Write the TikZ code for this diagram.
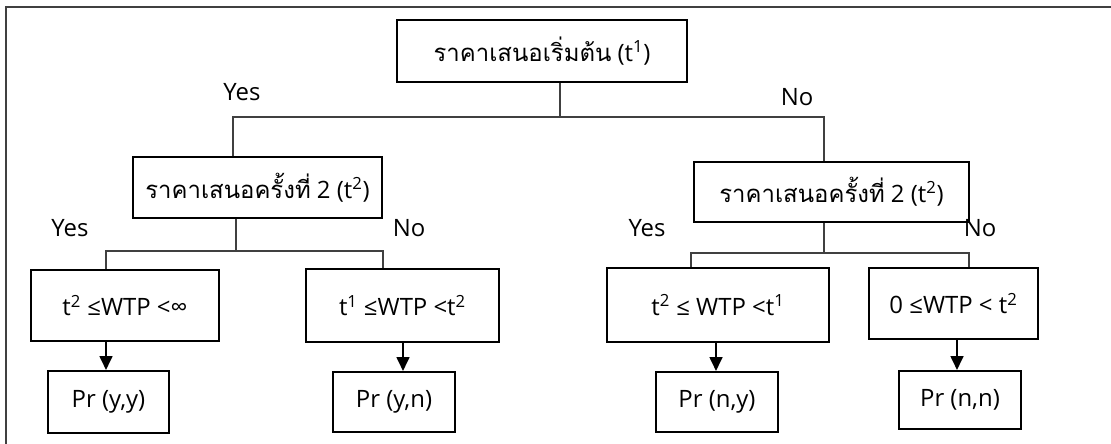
\documentclass[tikz,border=0pt]{standalone}
\usepackage{fontspec}
\setmainfont{Open Sans}
\newfontfamily\thaifont[Script=Thai,Scale=1.0]{Loma}
\usetikzlibrary{arrows.meta}

\tikzset{
  box/.style={draw, line width=1.3pt, inner sep=0pt, align=center},
  link/.style={draw=black!75, line width=0.8pt},
  arr/.style={line width=1.9pt, -{Triangle[width=9pt,length=10pt]}},
  lbl/.style={inner sep=0pt}
}

\begin{document}
\begin{tikzpicture}[x=0.025cm, y=-0.025cm, font=\fontsize{17}{20}\selectfont]
\useasboundingbox (0,0) rectangle (1111,444);

\draw [black!75, line width=1.4pt] (1112,7) -- (6,7) -- (6,445);

\node[box, minimum width=290*0.025cm, minimum height=62*0.025cm] (top) at (542,51) {{\thaifont ราคาเสนอเริ่มต้น} (t\textsuperscript{1})};
\node[box, minimum width=249*0.025cm, minimum height=61*0.025cm] (l2) at (257.5,187.5) {{\thaifont ราคาเสนอครั้งที่} 2 (t\textsuperscript{2})};
\node[box, minimum width=275*0.025cm, minimum height=60*0.025cm] (r2) at (831.5,192) {{\thaifont ราคาเสนอครั้งที่} 2 (t\textsuperscript{2})};

\node[box, minimum width=188*0.025cm, minimum height=71*0.025cm] (b1) at (125,305.5) {t\textsuperscript{2} ≤WTP <∞};
\node[box, minimum width=193*0.025cm, minimum height=73*0.025cm] (b2) at (402.5,305.5) {t\textsuperscript{1} ≤WTP <t\textsuperscript{2}};
\node[box, minimum width=222*0.025cm, minimum height=74*0.025cm] (b3) at (718,305) {t\textsuperscript{2} ≤ WTP <t\textsuperscript{1}};
\node[box, minimum width=169*0.025cm, minimum height=71*0.025cm] (b4) at (953.5,303.5) {0 ≤WTP < t\textsuperscript{2}};

\node[box, minimum width=121*0.025cm, minimum height=62*0.025cm] (p1) at (108.5,402) {Pr (y,y)};
\node[box, minimum width=122*0.025cm, minimum height=60*0.025cm] (p2) at (394,402) {Pr (y,n)};
\node[box, minimum width=122*0.025cm, minimum height=60*0.025cm] (p3) at (717,402) {Pr (n,y)};
\node[box, minimum width=122*0.025cm, minimum height=58*0.025cm] (p4) at (960,400) {Pr (n,n)};

\node[lbl] (yes0) at (242,92) {Yes};
\node[lbl] (no0) at (797,97) {No};
\node[lbl] (yes1) at (70,228) {Yes};
\node[lbl] (no1) at (409,228) {No};
\node[lbl] (yes2) at (647,228) {Yes};
\node[lbl] (no2) at (980,228) {No};

\coordinate (j0) at (560,117);
\coordinate (jl) at (233,117);
\coordinate (jr) at (824,117);
\coordinate (k1) at (236,251);
\coordinate (k1l) at (106,251);
\coordinate (k1r) at (383,251);
\coordinate (k2) at (824,253);
\coordinate (k2l) at (691,253);
\coordinate (k2r) at (969,253);

\draw[link] (top.south -| j0) -- (j0);
\draw[link] (jl |- l2.north) -- (jl) -- (jr) -- (jr |- r2.north);

\draw[link] (l2.south -| k1) -- (k1);
\draw[link] (k1l |- b1.north) -- (k1l) -- (k1r) -- (k1r |- b2.north);
\draw[link] (r2.south -| k2) -- (k2);
\draw[link] (k2l |- b3.north) -- (k2l) -- (k2r) -- (k2r |- b4.north);

\coordinate (a1) at (106,0);
\coordinate (a2) at (403,0);
\coordinate (a3) at (716,0);
\coordinate (a4) at (957,0);
\draw[arr] (b1.south -| a1) -- (p1.north -| a1);
\draw[arr] (b2.south -| a2) -- (p2.north -| a2);
\draw[arr] (b3.south -| a3) -- (p3.north -| a3);
\draw[arr] (b4.south -| a4) -- (p4.north -| a4);

\end{tikzpicture}
\end{document}
